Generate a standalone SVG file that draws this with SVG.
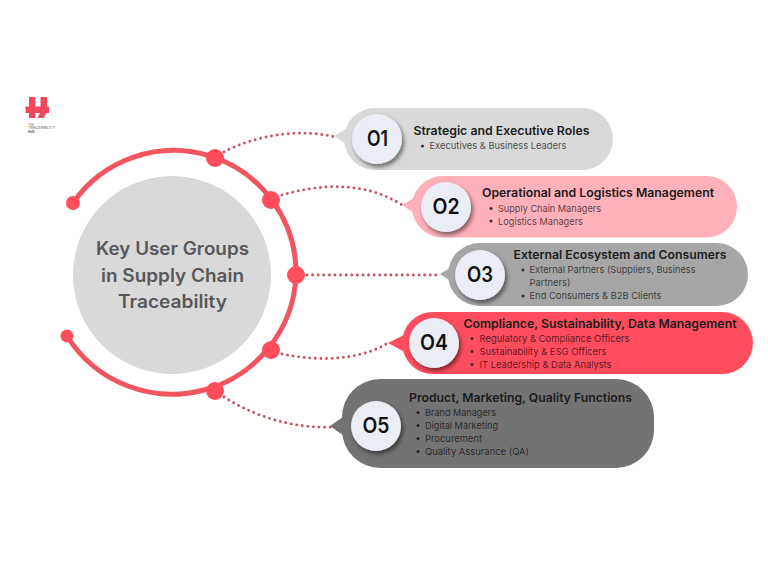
<svg xmlns="http://www.w3.org/2000/svg" width="768" height="576" viewBox="0 0 768 576">
<defs>
<filter id="sh" x="-30%" y="-30%" width="170%" height="170%"><feDropShadow dx="2" dy="3" stdDeviation="2.2" flood-color="#000" flood-opacity="0.5"/></filter>
</defs>
<style>
text{font-family:"Inter","Liberation Sans",sans-serif}
.dot{fill:none;stroke:#c9505f;stroke-width:2.9;stroke-linecap:round;stroke-dasharray:0 5.6}
.hub{fill:#ff4d5c}
.t{font-size:12px;font-weight:600;fill:#1c1c1c}
.b{font-size:9.5px;fill:#000;fill-opacity:.68}
.n{font-size:21px;font-weight:600;fill:#111;text-anchor:middle}
.c{fill:#eaedf4;filter:url(#sh)}
.m{font-size:18px;font-weight:600;fill:#58585a;text-anchor:middle}
.l{font-size:3px;fill:#555}
</style>
<rect width="768" height="576" fill="#fff"/>
<g id="logo">
<path fill="#f2485d" d="M29 97H35.500V106.500H40.500V97H47V106.500H49V113H46.500L43.500 118H37.500L40 113H35.500V118H29V113H25.500V106.500H29Z"/>
<text class="l" x="28" y="125.500">THE</text>
<text class="l" x="28" y="129" textLength="27" lengthAdjust="spacingAndGlyphs">TRACEABILITY</text>
<text class="l" x="28" y="133" font-weight="700" fill="#222">HUB</text>
</g>
<g id="center">
<circle cx="172" cy="275" r="99" fill="#d9d9d9"/>
<text class="m" x="172.500" y="255" textLength="153" lengthAdjust="spacingAndGlyphs">Key User Groups</text>
<text class="m" x="172.500" y="282" textLength="143" lengthAdjust="spacingAndGlyphs">in Supply Chain</text>
<text class="m" x="172.500" y="308" textLength="109" lengthAdjust="spacingAndGlyphs">Traceability</text>
</g>
<g id="connectors">
<path class="dot" d="M224 152C250 138 295 127 335 137"/>
<path class="dot" d="M282 195C320 184 365 181 402 205"/>
<path class="dot" d="M307 275H440"/>
<path class="dot" d="M282 354C320 362 360 360 388 343"/>
<path class="dot" d="M224 397C255 417 295 429 333 427"/>
</g>
<g id="ring">
<path d="M73 203A122.500 122.500 0 0 1 296 275A124 124 0 0 1 67 336" fill="none" stroke="#f2555f" stroke-width="5"/>
<circle class="hub" cx="73" cy="203" r="7"/>
<circle class="hub" cx="67" cy="336" r="6.500"/>
<circle class="hub" cx="215" cy="158" r="9"/>
<circle class="hub" cx="271" cy="200" r="9"/>
<circle class="hub" cx="296" cy="275" r="9"/>
<circle class="hub" cx="271" cy="350" r="9"/>
<circle class="hub" cx="215" cy="391" r="9"/>
</g>
<g id="n1">
<rect x="344" y="108" width="269" height="62" rx="31" fill="#d9d9d9"/>
<path d="M334 136L352 125V148Z" fill="#d9d9d9"/>
<circle class="c" cx="377" cy="139" r="25"/>
<text class="n" x="377.500" y="146" textLength="21" lengthAdjust="spacingAndGlyphs">O1</text>
<text class="t" x="413.500" y="135" textLength="176" lengthAdjust="spacingAndGlyphs">Strategic and Executive Roles</text>
<circle cx="422.500" cy="146" r="1.500" fill="#333"/>
<text class="b" x="429.500" y="149" textLength="137" lengthAdjust="spacingAndGlyphs">Executives &amp; Business Leaders</text>
</g>
<g id="n2">
<rect x="412" y="176" width="325" height="61.500" rx="30.500" fill="#ffb1bb"/>
<path d="M402 205L420 194V217Z" fill="#ffb1bb"/>
<circle class="c" cx="446" cy="207" r="25"/>
<text class="n" x="446" y="214" textLength="27" lengthAdjust="spacingAndGlyphs">O2</text>
<text class="t" x="482" y="197" textLength="232" lengthAdjust="spacingAndGlyphs">Operational and Logistics Management</text>
<circle cx="491" cy="208.500" r="1.500" fill="#333"/>
<text class="b" x="498" y="212" textLength="103" lengthAdjust="spacingAndGlyphs">Supply Chain Managers</text>
<circle cx="491" cy="221" r="1.500" fill="#333"/>
<text class="b" x="498" y="224.500" textLength="85" lengthAdjust="spacingAndGlyphs">Logistics Managers</text>
</g>
<g id="n3">
<rect x="448" y="243" width="300" height="63" rx="31.500" fill="#a6a6a6"/>
<path d="M440 274L458 263V286Z" fill="#a6a6a6"/>
<circle class="c" cx="480" cy="275" r="25"/>
<text class="n" x="480" y="282" textLength="26" lengthAdjust="spacingAndGlyphs">O3</text>
<text class="t" x="513.500" y="259" textLength="213" lengthAdjust="spacingAndGlyphs">External Ecosystem and Consumers</text>
<circle cx="523" cy="270" r="1.500" fill="#333"/>
<text class="b" x="529.500" y="273" textLength="166" lengthAdjust="spacingAndGlyphs">External Partners (Suppliers, Business</text>
<text class="b" x="529.500" y="286" textLength="41" lengthAdjust="spacingAndGlyphs">Partners)</text>
<circle cx="523" cy="296" r="1.500" fill="#333"/>
<text class="b" x="529.500" y="299" textLength="132" lengthAdjust="spacingAndGlyphs">End Consumers &amp; B2B Clients</text>
</g>
<g id="n4">
<rect x="402" y="312" width="351" height="62" rx="31" fill="#ff4d5e"/>
<path d="M388 343L412 331V356Z" fill="#ff4d5e"/>
<circle class="c" cx="434" cy="343" r="25"/>
<text class="n" x="434" y="350" textLength="28" lengthAdjust="spacingAndGlyphs">O4</text>
<text class="t" x="463.500" y="328" textLength="273" lengthAdjust="spacingAndGlyphs">Compliance, Sustainability, Data Management</text>
<circle cx="472" cy="338.500" r="1.500" fill="#333"/>
<text class="b" x="479.500" y="342" textLength="150" lengthAdjust="spacingAndGlyphs">Regulatory &amp; Compliance Officers</text>
<circle cx="472" cy="351.500" r="1.500" fill="#333"/>
<text class="b" x="479.500" y="355" textLength="127" lengthAdjust="spacingAndGlyphs">Sustainability &amp; ESG Officers</text>
<circle cx="472" cy="364.500" r="1.500" fill="#333"/>
<text class="b" x="479.500" y="368" textLength="132" lengthAdjust="spacingAndGlyphs">IT Leadership &amp; Data Analysts</text>
</g>
<g id="n5">
<rect x="342" y="379" width="312" height="89" rx="38" fill="#737373"/>
<path d="M330 426L350 412V440Z" fill="#737373"/>
<circle class="c" cx="376" cy="426" r="25"/>
<text class="n" x="376" y="433" textLength="27" lengthAdjust="spacingAndGlyphs">O5</text>
<text class="t" x="409" y="402" textLength="223" lengthAdjust="spacingAndGlyphs">Product, Marketing, Quality Functions</text>
<circle cx="418" cy="412.500" r="1.500" fill="#222"/>
<text class="b" x="425" y="416" textLength="71" lengthAdjust="spacingAndGlyphs">Brand Managers</text>
<circle cx="418" cy="425.500" r="1.500" fill="#222"/>
<text class="b" x="425" y="429" textLength="73" lengthAdjust="spacingAndGlyphs">Digital Marketing</text>
<circle cx="418" cy="438.500" r="1.500" fill="#222"/>
<text class="b" x="425" y="442" textLength="57" lengthAdjust="spacingAndGlyphs">Procurement</text>
<circle cx="418" cy="451.500" r="1.500" fill="#222"/>
<text class="b" x="425" y="455" textLength="104" lengthAdjust="spacingAndGlyphs">Quality Assurance (QA)</text>
</g>
</svg>
